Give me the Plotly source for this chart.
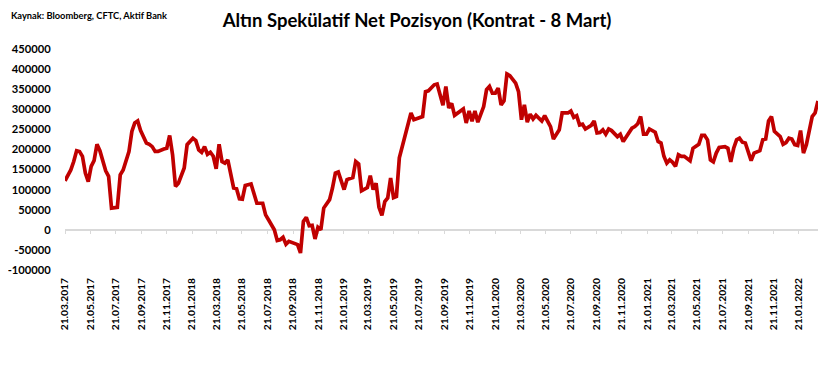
import pandas as pd
import plotly.graph_objects as go

# ---- data ----
start_date = "2017-03-21"          # first weekly CFTC observation
week_index = [0, 2, 3, 4, 5, 6, 7, 8, 9, 10, 11, 12, 14, 15, 16, 18, 19, 20, 22, 23,
              24, 25, 26, 28, 29, 30, 31, 32, 34, 35, 36, 37, 38, 39, 41, 42, 44, 45, 46, 47,
              48, 49, 50, 51, 52, 53, 54, 55, 56, 57, 58, 59, 60, 61, 62, 64, 66, 68, 69, 70,
              72, 73, 74, 75, 76, 77, 79, 80, 81, 82, 83, 84, 85, 86, 87, 88, 89, 91, 92, 93,
              94, 95, 96, 97, 99, 100, 101, 102, 103, 104, 105, 106, 107, 108, 109, 110, 111, 112, 113, 114,
              115, 117, 119, 120, 122, 123, 124, 125, 127, 128, 130, 131, 132, 133, 134, 136, 137, 138, 139, 140,
              141, 142, 144, 145, 146, 147, 148, 149, 150, 151, 152, 153, 155, 156, 157, 158, 159, 160, 161, 162,
              164, 165, 167, 168, 170, 171, 172, 173, 174, 175, 176, 177, 178, 179, 181, 182, 183, 184, 185, 186,
              187, 188, 190, 191, 192, 194, 195, 196, 197, 198, 199, 200, 201, 203, 204, 205, 206, 207, 208, 209,
              210, 211, 212, 213, 215, 216, 218, 219, 220, 221, 222, 223, 224, 225, 227, 228, 229, 230, 231, 232,
              233, 234, 236, 237, 239, 240, 241, 242, 243, 244, 246, 247, 248, 249, 250, 251, 252, 253, 254, 255,
              256, 257, 258, 259]
net_position = [122000, 149000, 170000, 197000, 195000, 183000, 141000, 120000, 158000, 172000,
                213000, 197000, 147000, 133000, 54000, 56000, 137000, 149000, 195000, 245000,
                266000, 271000, 247000, 216000, 213000, 207000, 195000, 195000, 201000, 203000,
                235000, 187000, 108000, 116000, 154000, 212000, 228000, 222000, 199000, 193000,
                207000, 188000, 193000, 183000, 152000, 213000, 170000, 166000, 174000, 133000,
                104000, 102000, 77000, 76000, 110000, 114000, 66000, 66000, 37000, 25000,
                0, -27000, -25000, -19000, -36000, -29000, -33000, -37000, -58000, 21000,
                31000, 10000, 11000, -23000, 6000, 0, 54000, 75000, 104000, 141000,
                144000, 120000, 100000, 125000, 130000, 170000, 164000, 97000, 100000, 105000,
                135000, 100000, 116000, 56000, 36000, 70000, 79000, 129000, 80000, 83000,
                179000, 232000, 291000, 274000, 278000, 282000, 344000, 346000, 361000, 363000,
                310000, 357000, 303000, 315000, 285000, 295000, 301000, 266000, 296000, 270000,
                296000, 268000, 307000, 349000, 357000, 340000, 340000, 353000, 311000, 321000,
                388000, 384000, 365000, 344000, 274000, 311000, 268000, 288000, 276000, 285000,
                271000, 284000, 257000, 226000, 249000, 291000, 292000, 291000, 296000, 280000,
                284000, 261000, 263000, 251000, 260000, 271000, 241000, 242000, 249000, 238000,
                251000, 247000, 232000, 238000, 220000, 245000, 253000, 257000, 264000, 282000,
                238000, 238000, 251000, 243000, 220000, 216000, 183000, 166000, 174000, 168000,
                158000, 187000, 183000, 183000, 172000, 203000, 213000, 235000, 235000, 224000,
                174000, 169000, 191000, 205000, 207000, 203000, 169000, 203000, 224000, 228000,
                218000, 216000, 172000, 191000, 197000, 224000, 226000, 271000, 282000, 245000,
                232000, 213000, 217000, 228000, 226000, 212000, 210000, 247000, 191000, 212000,
                243000, 282000, 291000, 321000]

y_tick_values = [-100000, -50000, 0, 50000, 100000, 150000, 200000, 250000, 300000, 350000, 400000, 450000]
y_tick_labels = ["-100000", "-50000", "0", "50000", "100000", "150000", "200000", "250000",
                 "300000", "350000", "400000", "450000"]
x_first_tick = "2017-03-21"
x_tick_count = 30                  # every two months up to 21.01.2022

title_text = "Altın Spekülatif Net Pozisyon (Kontrat - 8 Mart)"
source_text = "Kaynak: Bloomberg, CFTC, Aktif Bank"

# ---- build ----
start = pd.Timestamp(start_date)
dates = [start + pd.Timedelta(days=7 * w) for w in week_index]
first_tick = pd.Timestamp(x_first_tick)
tick_dates = [first_tick + pd.DateOffset(months=2 * i) for i in range(x_tick_count)]

y_min, y_max = -100000, 450000
pad = 300
zero_pos = (0 - (y_min - pad)) / ((y_max + pad) - (y_min - pad))

# the page body keeps an 8px default margin, so the figure is sized to fit inside it
BODY = 8
W, H = 834 - BODY, 367 - BODY
ML, MR, MT, MB = 65 - BODY, 16, 49 - BODY, 97
plot_w, plot_h = W - ML - MR, H - MT - MB

FONT = "Lato"
fig = go.Figure()
fig.add_trace(go.Scatter(x=dates, y=net_position, mode="lines",
                         line=dict(color="#C00000", width=3.7),
                         xaxis="x", yaxis="y", showlegend=False,
                         hovertemplate="%{x|%d.%m.%Y}: %{y}<extra></extra>"))
# invisible helper trace so the label axis is drawn
fig.add_trace(go.Scatter(x=[dates[0], dates[-1]], y=[0, 0], mode="lines",
                         line=dict(width=0), xaxis="x2", yaxis="y",
                         showlegend=False, hoverinfo="skip"))

fig.update_layout(
    width=W, height=H,
    margin=dict(l=ML, r=MR, t=MT, b=MB, autoexpand=False),
    paper_bgcolor="white", plot_bgcolor="white",
    font=dict(family=FONT, color="black"),
    title=dict(text=title_text, x=(417 - BODY) / W, xref="container", xanchor="center",
               y=1 - (21 - BODY) / H, yref="container", yanchor="middle",
               font=dict(family=FONT, size=18.5, weight="bold", color="black")),
    xaxis=dict(type="date", range=[dates[0], dates[-1]],
               anchor="free", position=zero_pos,
               showline=True, linecolor="#d9d9d9", linewidth=1.5,
               ticks="outside", ticklen=4, tickcolor="#d9d9d9", tickwidth=1,
               tickvals=tick_dates, showticklabels=False, automargin=False,
               showgrid=False, zeroline=False, layer="below traces"),
    xaxis2=dict(type="date", overlaying="x", matches="x", anchor="y", side="bottom",
                showline=False, showgrid=False, zeroline=False, automargin=False,
                tickvals=tick_dates, tickformat="%d.%m.%Y", tickangle=-90,
                ticks="outside", ticklen=3, tickcolor="rgba(0,0,0,0)",
                tickfont=dict(family=FONT, size=10.2, weight="bold", color="black")),
    yaxis=dict(range=[y_min - pad, y_max + pad], tickvals=y_tick_values, ticktext=y_tick_labels,
               showgrid=False, zeroline=False, showline=False, automargin=False,
               ticks="outside", ticklen=11, tickcolor="rgba(0,0,0,0)",
               tickfont=dict(family=FONT, size=11.2, weight="bold", color="black")),
)

fig.add_annotation(text=source_text, xref="paper", yref="paper",
                   x=(1 - ML) / plot_w, y=1 + (MT - 7) / plot_h,
                   xanchor="left", yanchor="middle",
                   showarrow=False, font=dict(family=FONT, size=9.3, weight="bold", color="black"))

fig.write_html("out.html")
